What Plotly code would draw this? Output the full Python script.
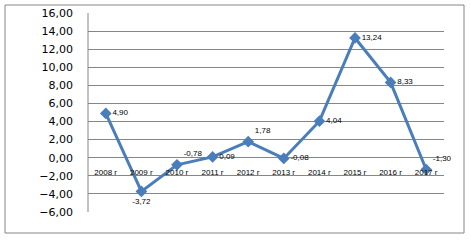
import plotly.graph_objects as go

categories = ["2008 г", "2009 г", "2010 г", "2011 г", "2012 г", "2013 г", "2014 г", "2015 г", "2016 г", "2017 г"]
values = [4.90, -3.72, -0.78, 0.09, 1.78, -0.08, 4.04, 13.24, 8.33, -1.30]
label_positions = ["middle right", "bottom center", "top right", "middle right", "top right",
                   "middle right", "middle right", "middle right", "middle right", "top right"]
y_ticks = [-6, -4, -2, 0, 2, 4, 6, 8, 10, 12, 14, 16]

fig = go.Figure()
fig.add_trace(go.Scatter(
    x=categories, y=values,
    mode="lines+markers+text",
    line=dict(color="#4A7EBB", width=3),
    marker=dict(symbol="diamond", size=9, color="#4A7EBB"),
    text=[f"{v:.2f}".replace(".", ",") for v in values],
    textposition=label_positions,
    textfont=dict(family="Liberation Sans", size=8, color="#000000"),
    cliponaxis=False,
    hoverinfo="skip",
))

L, R, T, B = 88, 27, 13, 29
W, H = 471, 241
pw, ph = W - L - R, H - T - B

fig.update_layout(
    template="none",
    width=W, height=H,
    margin=dict(l=L, r=R, t=T, b=B, autoexpand=False),
    paper_bgcolor="white", plot_bgcolor="white",
    separators=", ",
    showlegend=False,
    font=dict(family="DejaVu Sans", color="#000000"),
    xaxis=dict(
        type="category",
        anchor="free",
        position=(0 - (-6)) / 22,
        automargin=False,
        showgrid=False,
        showline=False,
        zeroline=False,
        ticks="",
        tickfont=dict(family="Liberation Sans", size=8),
        ticklabelstandoff=8,
        range=[-0.5, 9.5],
    ),
    yaxis=dict(
        range=[-6, 16],
        tickvals=y_ticks,
        tickformat=".2f",
        automargin=False,
        showgrid=True,
        gridcolor="#868686",
        gridwidth=1,
        zeroline=False,
        showline=False,
        ticks="",
        tickfont=dict(family="DejaVu Sans", size=11),
        ticklabelstandoff=14,
    ),
    shapes=[
        dict(type="rect", xref="paper", yref="paper",
             x0=(5 - L) / pw, x1=(464 - L) / pw,
             y0=(H - B - 233) / ph, y1=(H - B - 5) / ph,
             line=dict(color="#868686", width=1), fillcolor="rgba(0,0,0,0)", layer="below"),
        dict(type="line", xref="paper", yref="paper",
             x0=0, x1=0, y0=0, y1=1,
             line=dict(color="#868686", width=1)),
    ],
)

fig.write_html("out.html", config={"displayModeBar": False, "staticPlot": True},
               post_script="document.body.style.margin='0';document.body.style.overflow='hidden';")
